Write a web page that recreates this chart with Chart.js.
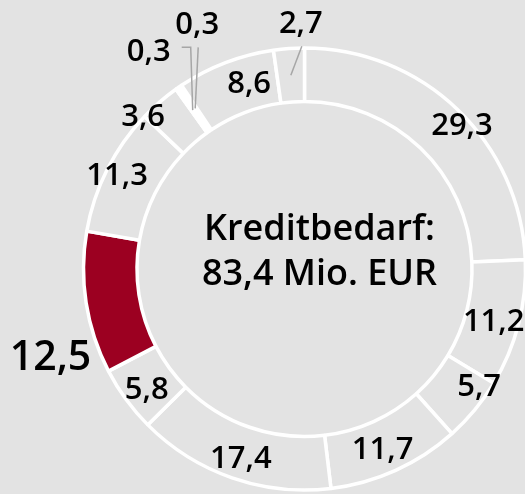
<!DOCTYPE html>
<html><head><meta charset="utf-8">
<script src="https://cdn.jsdelivr.net/npm/chart.js@4"></script>
<style>
html,body{margin:0;padding:0;background:#e3e3e3;overflow:hidden;}
#wrap{position:relative;width:525px;height:494px;overflow:hidden;background:#e3e3e3;}
canvas{position:absolute;left:0;top:0;}
</style></head><body>
<div id="wrap"><canvas id="c" width="609" height="538"></canvas></div>
<script>
// ---- data ----
const values = [29.3, 11.2, 5.7, 11.7, 17.4, 5.8, 12.5, 11.3, 3.6, 0.3, 0.3, 8.6, 2.7];
const highlightIndex = 6;
const centerLines = ['Kreditbedarf:', '83,4 Mio. EUR'];

// ---- style ----
const BG = '#e3e3e3';
const RED = '#9c0021';
const FONT = '"Open Sans", "Noto Sans", sans-serif';
const WEIGHT = 600;
// label offsets (px) from the middle of each ring segment
const labelOffsets = [[23,-5],[1,3],[25,-8],[-2,2],[0,4],[-1,4],[-62,57],[-14,-8],[-34,-7],[-44,-60],[2,-85],[14,-6],[10,-53]];
const labelSizes = values.map((v,i)=> i===highlightIndex ? 41 : 31);
// leader lines: index -> list of points relative to label center (end at segment middle)
const leaders = {9: [[33,-3],[42,-3]], 10: [[1,24]], 12: [[1,24]]};

const fmt = v => v.toFixed(1).replace('.', ',');

const labelPlugin = {
  id: 'labels',
  afterDatasetsDraw(chart) {
    const ctx = chart.ctx;
    const meta = chart.getDatasetMeta(0);
    ctx.save();
    meta.data.forEach((arc, i) => {
      const p = arc.getProps(['x','y','startAngle','endAngle','innerRadius','outerRadius'], true);
      const a = (p.startAngle + p.endAngle) / 2;
      const rm = (p.innerRadius + p.outerRadius) / 2;
      const mx = p.x + Math.cos(a) * rm;
      const my = p.y + Math.sin(a) * rm;
      const lx = mx + labelOffsets[i][0];
      const ly = my + labelOffsets[i][1];
      if (leaders[i]) {
        ctx.beginPath();
        ctx.strokeStyle = '#a6a6a6';
        ctx.lineWidth = 1.5;
        ctx.moveTo(mx, my);
        const pts = leaders[i].slice().reverse();
        pts.forEach(q => ctx.lineTo(lx + q[0], ly + q[1]));
        ctx.stroke();
      }
      const s = labelSizes[i];
      ctx.font = `${WEIGHT} ${s}px ${FONT}`;
      ctx.fillStyle = '#000';
      ctx.textAlign = 'center';
      ctx.textBaseline = 'alphabetic';
      ctx.fillText(fmt(values[i]), lx, ly + 0.357 * s);
    });
    // center text
    const c = meta.data[0].getProps(['x','y'], true);
    ctx.font = `${WEIGHT} 36px ${FONT}`;
    ctx.fillStyle = '#000';
    ctx.textAlign = 'center';
    ctx.fillText(centerLines[0], c.x + 15, c.y - 29);
    ctx.fillText(centerLines[1], c.x + 15, c.y + 16);
    ctx.restore();
  }
};

new Chart(document.getElementById('c'), {
  type: 'doughnut',
  data: {
    labels: values.map(fmt),
    datasets: [{
      data: values,
      backgroundColor: values.map((v,i)=> i===highlightIndex ? RED : BG),
      borderColor: '#ffffff',
      borderWidth: 3.5,
      borderAlign: 'center'
    }]
  },
  options: {
    responsive: false,
    animation: false,
    devicePixelRatio: 1,
    radius: 221,
    cutout: '75.8%',
    layout: { padding: 0 },
    plugins: { legend: { display: false }, tooltip: { enabled: false } }
  },
  plugins: [labelPlugin]
});
</script>
</body></html>
